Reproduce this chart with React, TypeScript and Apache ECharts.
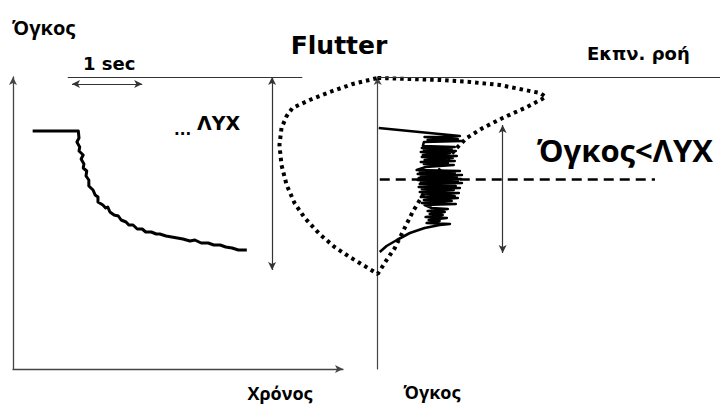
import React, { useEffect, useRef } from "react";
import * as echarts from "echarts";

// ---- Left panel: volume vs time (seconds, litres) ----
const TIME_S = [0.28, 0.93, 0.94, 0.91, 0.95, 0.94, 1.0, 0.97, 1.01, 1.0, 1.05, 1.04, 1.08, 1.08, 1.14, 1.17, 1.21, 1.21, 1.28, 1.32, 1.35, 1.38, 1.44, 1.5, 1.54, 1.61, 1.65, 1.71, 1.77, 1.84, 1.89, 1.97, 2.04, 2.09, 2.18, 2.26, 2.34, 2.42, 2.52, 2.59, 2.68, 2.78, 2.86, 2.95, 3.03, 3.12, 3.21, 3.33];
const VOLUME_L = [2.38, 2.38, 2.31, 2.27, 2.22, 2.18, 2.14, 2.1, 2.05, 2.01, 1.98, 1.93, 1.89, 1.83, 1.79, 1.74, 1.72, 1.67, 1.64, 1.61, 1.62, 1.57, 1.54, 1.53, 1.49, 1.47, 1.44, 1.44, 1.4, 1.4, 1.37, 1.37, 1.35, 1.35, 1.33, 1.32, 1.31, 1.3, 1.28, 1.29, 1.26, 1.26, 1.24, 1.24, 1.22, 1.21, 1.19, 1.19];

// ---- Right panel: flow-volume loop (flow, expired volume) ----
const LOOP_FLOW = [0, 0.94, 1.81, 2.69, 3.57, 4.3, 4.74, 4.91, 4.36, 3.65, 3.07, 2.6, 2.25, 1.81, 1.37, 1.02, 0.73, 0.5, 0.26, 0, -0.38, -0.82, -1.26, -1.7, -2.13, -2.43, -2.66, -2.81, -2.87, -2.81, -2.66, -2.49, -1.99, -1.4, -0.73, 0];
const LOOP_VOL = [0.01, 0.02, 0.03, 0.05, 0.08, 0.13, 0.16, 0.2, 0.3, 0.41, 0.51, 0.61, 0.73, 0.93, 1.15, 1.35, 1.55, 1.71, 1.83, 1.97, 1.89, 1.8, 1.7, 1.57, 1.41, 1.26, 1.08, 0.88, 0.68, 0.51, 0.39, 0.31, 0.23, 0.15, 0.07, 0.01];

const FLUTTER_FLOW = [0.03, 2.4, 1.37, 2.34, 1.46, 2.46, 1.35, 1.32, 2.25, 1.29, 2.16, 1.35, 2.28, 1.26, 2.11, 1.32, 2.31, 1.29, 2.19, 1.37, 2.25, 1.26, 2.05, 1.35, 2.22, 1.4, 1.14, 2.4, 1.23, 2.25, 1.17, 2.46, 1.26, 2.31, 1.2, 2.43, 1.17, 2.34, 1.26, 2.46, 1.23, 2.28, 1.2, 2.4, 1.29, 2.22, 1.23, 2.37, 1.32, 2.25, 1.26, 2.34, 1.35, 2.16, 1.29, 2.28, 1.37, 1.58, 2.05, 1.46, 1.96, 1.52, 1.9, 1.4, 2.02, 1.49, 1.81, 1.43, 2.11, 1.81, 1.37, 0.94, 0.56, 0.26, 0.06];
const FLUTTER_VOL = [0.51, 0.59, 0.6, 0.62, 0.63, 0.64, 0.65, 0.69, 0.7, 0.71, 0.72, 0.73, 0.74, 0.75, 0.76, 0.78, 0.79, 0.8, 0.81, 0.83, 0.84, 0.85, 0.86, 0.87, 0.88, 0.9, 0.93, 0.94, 0.95, 0.96, 0.97, 0.98, 0.99, 1.0, 1.01, 1.02, 1.03, 1.04, 1.05, 1.06, 1.07, 1.09, 1.1, 1.11, 1.12, 1.13, 1.15, 1.16, 1.17, 1.19, 1.2, 1.21, 1.23, 1.24, 1.26, 1.27, 1.28, 1.31, 1.32, 1.34, 1.35, 1.37, 1.38, 1.4, 1.41, 1.43, 1.44, 1.46, 1.47, 1.48, 1.51, 1.56, 1.63, 1.69, 1.75];

// annotation values
const ONE_SEC = [0.84, 1.84];
const ONE_SEC_VOL = 2.85;
const TOP_REF_T = [0.78, 4.12];
const TOP_VOL = 2.92;
const VC_ARROW_T = 3.69;
const VC_ARROW_V = [2.92, 0.99];
const FLOW_AXIS = [0, 10];
const LYX_VOL = 1.02;
const LYX_FLOW = [0.06, 8.1];
const TIDAL_ARROW_F = 3.65;
const TIDAL_ARROW_V = [0.48, 1.76];

const DJ = "DejaVu Sans";
const OS = "Open Sans";

export default function App() {
  const ref = useRef<HTMLDivElement>(null);
  useEffect(() => {
    const chart = echarts.init(ref.current!, null, { renderer: "svg" });
    const axisCol = "#444";
    const hidden = {
      axisTick: { show: false },
      axisLabel: { show: false },
      splitLine: { show: false },
    };
    const arrowLineStyle = { color: "#333", width: 1.2, type: "solid" as const };
    const ml = (data: any[]) => ({
      silent: true,
      symbol: ["arrow", "arrow"],
      symbolSize: [6, 8],
      label: { show: false },
      emphasis: { disabled: true },
      lineStyle: arrowLineStyle,
      data,
    });
    const plain = { symbol: "none" };

    const option: any = {
      animation: false,
      backgroundColor: "#fff",
      grid: [
        { left: 13, top: 77, width: 330, height: 292 },
        { left: 275, top: 77, right: 0, height: 292 },
      ],
      xAxis: [
        {
          gridIndex: 0, type: "value", min: 0, max: 4.7,
          axisLine: { show: true, lineStyle: { color: axisCol, width: 1.3 }, symbol: ["none", "arrow"], symbolSize: [6, 8], onZero: false },
          ...hidden,
        },
        {
          gridIndex: 1, type: "value", min: -3, max: 10,
          axisLine: { show: false },
          ...hidden,
        },
      ],
      yAxis: [
        {
          gridIndex: 0, type: "value", min: 0, max: 2.92,
          axisLine: { show: true, lineStyle: { color: axisCol, width: 1.3 }, symbol: ["none", "arrow"], symbolSize: [6, 8], onZero: false },
          ...hidden,
        },
        {
          gridIndex: 1, type: "value", min: 0, max: 2.92, inverse: true,
          axisLine: { show: true, lineStyle: { color: axisCol, width: 1.2 }, symbol: ["none", "arrow"], symbolSize: [6, 8], onZero: true },
          ...hidden,
        },
      ],
      series: [
        {
          type: "line", xAxisIndex: 0, yAxisIndex: 0,
          data: TIME_S.map((t, i) => [t, VOLUME_L[i]]),
          symbol: "none", silent: true,
          lineStyle: { color: "#000", width: 3, join: "round" },
          markLine: ml([
            [{ coord: [ONE_SEC[0], ONE_SEC_VOL] }, { coord: [ONE_SEC[1], ONE_SEC_VOL] }],
            [{ coord: [TOP_REF_T[0], TOP_VOL], ...plain }, { coord: [TOP_REF_T[1], TOP_VOL], ...plain }],
            [{ coord: [VC_ARROW_T, VC_ARROW_V[0]] }, { coord: [VC_ARROW_T, VC_ARROW_V[1]] }],
          ]),
        },
        {
          type: "line", xAxisIndex: 1, yAxisIndex: 1, clip: false,
          data: LOOP_FLOW.map((f, i) => [f, LOOP_VOL[i]]),
          symbol: "none", silent: true,
          lineStyle: { color: "#000", width: 4, type: [3.5, 4], cap: "butt" },
        },
        {
          type: "line", xAxisIndex: 1, yAxisIndex: 1, clip: false,
          data: FLUTTER_FLOW.map((f, i) => [f, FLUTTER_VOL[i]]),
          symbol: "none", silent: true,
          lineStyle: { color: "#000", width: 2.6, join: "round" },
          markLine: ml([
            [{ coord: [FLOW_AXIS[0], 0], ...plain }, { coord: [FLOW_AXIS[1], 0], ...plain }],
            [
              { coord: [LYX_FLOW[0], LYX_VOL], ...plain, lineStyle: { color: "#000", width: 2.5, type: [10, 6] } },
              { coord: [LYX_FLOW[1], LYX_VOL], ...plain, lineStyle: { color: "#000", width: 2.5, type: [10, 6] } },
            ],
            [{ coord: [TIDAL_ARROW_F, TIDAL_ARROW_V[0]] }, { coord: [TIDAL_ARROW_F, TIDAL_ARROW_V[1]] }],
          ]),
        },
      ],
      graphic: [
        { type: "text", x: 12, y: 27, style: { text: "Όγκος", font: `bold 20px "${OS}"`, fill: "#000", verticalAlign: "middle" } },
        { type: "text", x: 339, y: 45, style: { text: "Flutter", font: `bold 25px "${DJ}"`, fill: "#000", align: "center", verticalAlign: "middle" } },
        { type: "text", x: 83, y: 63, style: { text: "1 sec", font: `bold 18px "${DJ}"`, fill: "#000", verticalAlign: "middle" } },
        { type: "text", x: 174, y: 137, style: { text: "...", font: `bold 15px "${DJ}"`, fill: "#000", verticalAlign: "bottom" } },
        { type: "text", x: 197, y: 123, style: { text: "ΛΥΧ", font: `bold 19px "${DJ}"`, fill: "#000", verticalAlign: "middle" } },
        { type: "text", x: 587, y: 53, style: { text: "Εκπν. ροή", font: `bold 18px "${DJ}"`, fill: "#000", verticalAlign: "middle" } },
        { type: "text", x: 537, y: 150, style: { text: "Όγκος<ΛΥΧ", font: `bold 31px "${OS}"`, fill: "#000", verticalAlign: "middle" } },
        { type: "text", x: 280, y: 393, style: { text: "Χρόνος", font: `bold 18px "${OS}"`, fill: "#000", align: "center", verticalAlign: "middle" } },
        { type: "text", x: 432, y: 392, style: { text: "Όγκος", font: `bold 18px "${OS}"`, fill: "#000", align: "center", verticalAlign: "middle" } },
      ],
    };
    chart.setOption(option);
    return () => chart.dispose();
  }, []);
  return <div ref={ref} style={{ position: "fixed", left: 0, top: 0, width: 720, height: 405 }} />;
}
